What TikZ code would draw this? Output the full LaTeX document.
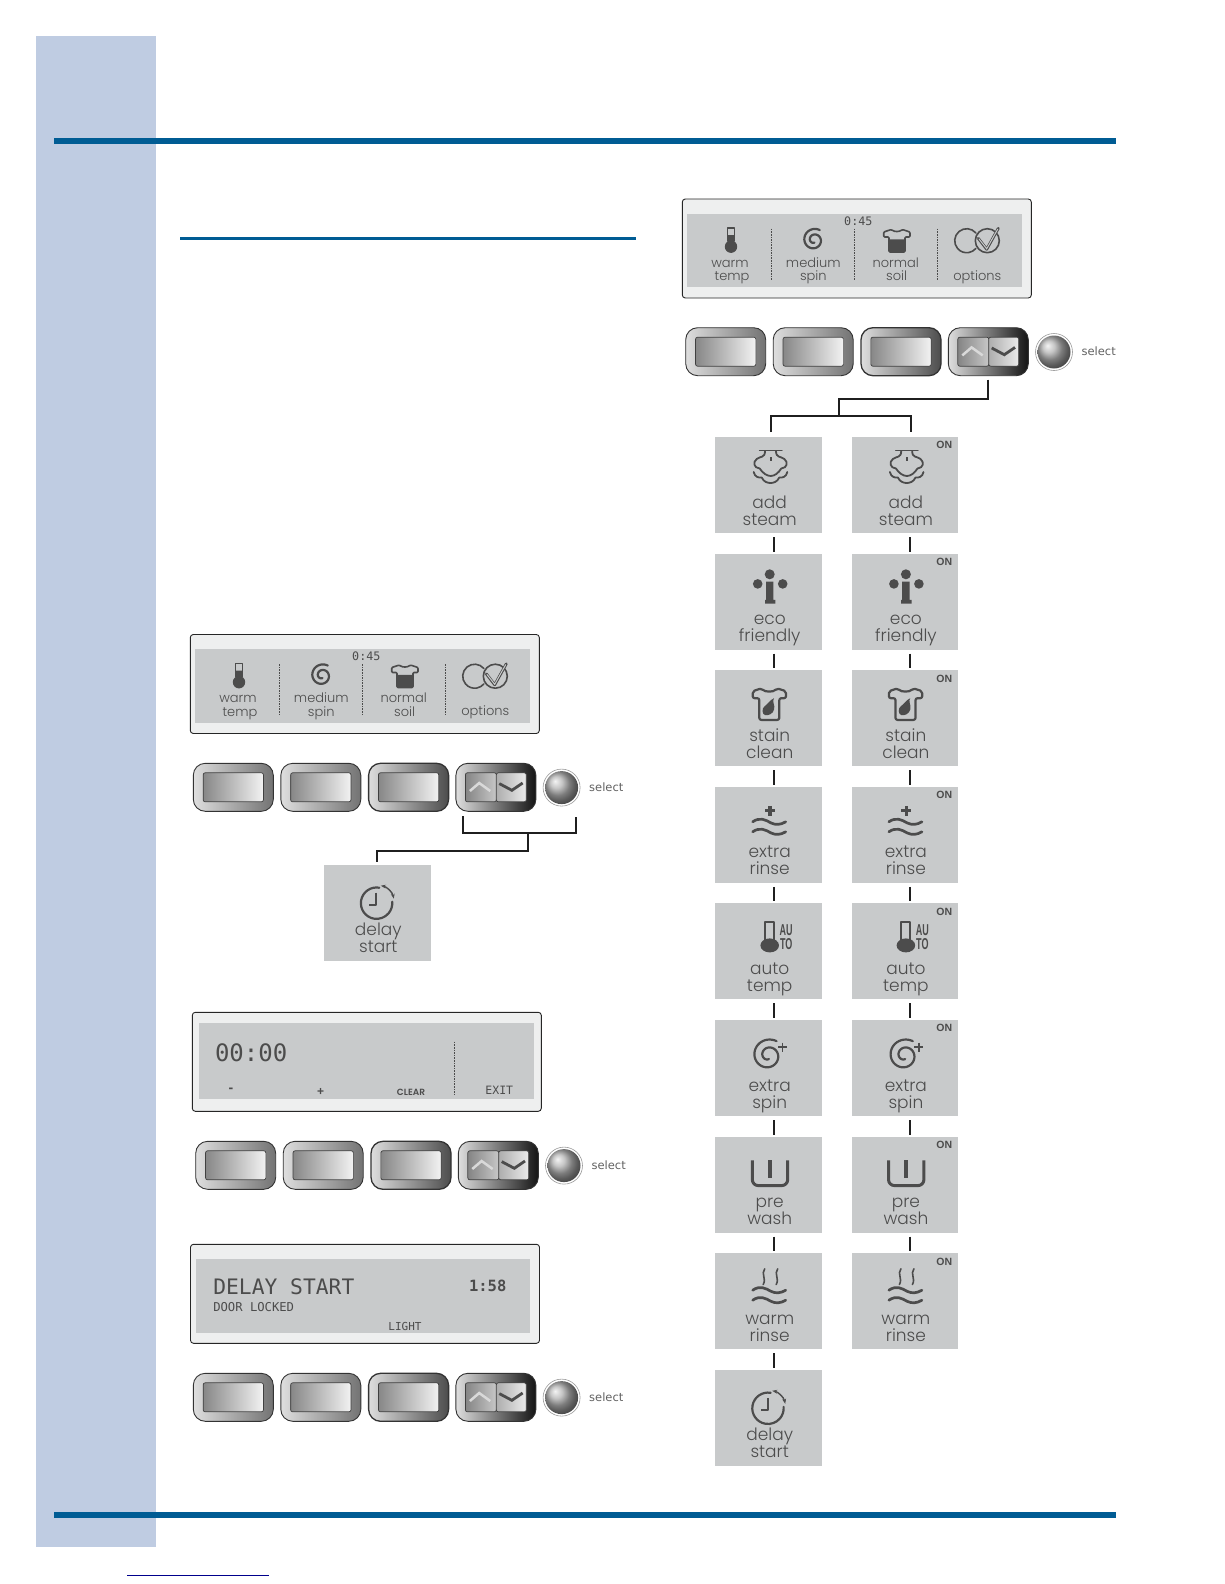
\documentclass[tikz,border=0pt]{standalone}
\usepackage{fontspec}
\usepackage{xcolor}
\usetikzlibrary{arrows.meta,positioning,calc}
\newfontfamily\lcdfont{Poppins Light}
\newfontfamily\lcdmono{DejaVu Sans Mono}
\newfontfamily\capsfont{Liberation Sans}
\newfontfamily\pagefont{DejaVu Sans}
\definecolor{sidebar}{HTML}{BFCCE2}
\definecolor{rulebar}{HTML}{005C94}
\definecolor{lcdgray}{HTML}{C8CACB}
\definecolor{framegray}{HTML}{EEEFEF}
\definecolor{lcdink}{HTML}{4C4C4C}

% the icons, origin at the middle of their tile
\tikzset{
  icon/.style={draw=lcdink, line width=2.2pt, line join=round, line cap=round},
  pics/spiralicon/.style={code={
    \draw[icon] plot[domain=60:640, samples=70, smooth]
      ({(#1)*(1-(\x-60)*0.00135)*cos(\x)},{-(#1)*(1-(\x-60)*0.00135)*sin(\x)});
  }},
  wavesicon/.pic={
    \draw[icon, line width=2.7pt] (-16,-13) .. controls (-9,-18) and (-3,-15) .. (2,-12) .. controls (7,-9.5) and (12,-10) .. (17,-13);
    \draw[icon, line width=2.7pt] (-16,-3) .. controls (-9,-8) and (-3,-5) .. (2,-2) .. controls (7,0.5) and (12,0) .. (17,-3);
  },
  steamicon/.pic={
    \draw[icon, line width=1pt] (-9.4,-35) -- (13.3,-35);
    \draw[icon, line width=1.8pt] (-3.7,-34) .. controls (-3.7,-27) and (-8,-29) .. (-12,-26) .. controls (-16,-23) and (-15,-17) .. (-9,-16.5) .. controls (-6,-12) and (-2,-9) .. (2,-9) .. controls (6,-9) and (9.6,-12) .. (12.6,-16.5) .. controls (18.6,-17) and (19.6,-23) .. (15.6,-26) .. controls (11.6,-29) and (7.3,-27) .. (7.3,-34);
    \draw[icon, line width=1.8pt] (-15,-13) .. controls (-14,-8) and (-10,-7) .. (-7,-7.5) .. controls (-5,-3) and (-1,-2) .. (1.8,-2) .. controls (4.6,-2) and (8.6,-3) .. (10.6,-7.5) .. controls (13.6,-7) and (17.6,-8) .. (18.6,-13);
    \fill[lcdink] (0.8,-28) rectangle (2.8,-24);
  },
  ecoicon/.pic={
    \fill[lcdink] (1,-27.3) circle[radius=5pt] (-11,-17.7) circle[radius=4.8pt] (14,-17.7) circle[radius=4.8pt];
    \fill[lcdink] (-2.7,-20) rectangle (4.6,-1.7) (-3.7,-1.7) rectangle (6.6,2);
  },
  stainicon/.pic={
    \draw[icon, rounded corners=2pt] (-16,-27) -- (-7,-30) .. controls (-4,-26) and (5,-26) .. (8,-30) -- (17.3,-27) -- (17.3,-20) -- (10.6,-20) -- (10.6,1.7) -- (-9.4,1.7) -- (-9.4,-20) -- (-16,-20) -- cycle;
    \fill[lcdink] (5.3,-20) .. controls (3,-17) and (6.5,-13) .. (5.5,-9) .. controls (4.5,-4) and (-1,-2.5) .. (-3.5,-3) .. controls (-7,-4) and (-7,-10) .. (-4,-12) .. controls (-1,-14) and (1,-18) .. (5.3,-20) -- cycle;
  },
  rinseicon/.pic={
    \pic {wavesicon};
    \draw[icon, line width=3.2pt, line cap=butt] (-3.7,-24) -- (6.3,-24) (1.3,-29) -- (1.3,-19);
  },
  autoicon/.pic={
    \draw[icon, line width=1.8pt] (-3.7,-8.7) -- (-3.7,-29.3) -- (5.3,-29.3) -- (5.3,-8.7);
    \fill[lcdink] (1,-6) ellipse[x radius=9.3pt, y radius=7pt];
    \node[autotag] (-au) at (17.5,-21) {\scalebox{1}[1.75]{AU}};
    \node[autotag] (-to) at (17.5,-7) {\scalebox{1}[1.75]{TO}};
  },
  extraspinicon/.pic={
    \pic at (-0.4,-12.6) {spiralicon=16.5};
    \draw[icon, line width=1.5pt, line cap=butt] (9.5,-21) -- (18.5,-21) (14,-25.5) -- (14,-16.5);
  },
  prewashicon/.pic={
    \draw[icon, line width=3pt, line cap=butt, rounded corners=6pt] (-16.4,-24.3) -- (-16.4,1) -- (19,1) -- (19,-24.3);
    \draw[icon, line width=4pt, line cap=butt] (1.3,-24.3) -- (1.3,-6.7);
  },
  warmrinseicon/.pic={
    \pic at (0,2) {wavesicon};
    \draw[icon, line width=1.6pt] (-4,-32.4) .. controls (-8,-27) and (-2,-23) .. (-5.5,-16.7);
    \draw[icon, line width=1.6pt] (9,-32.4) .. controls (5,-27) and (11,-23) .. (7.5,-16.7);
  },
  delayicon/.pic={
    \draw[icon, line width=2.2pt] (2,-25) arc[start angle=80, end angle=365, radius=15.7pt];
    \draw[icon, line width=2pt, line cap=butt] (-1,-20) -- (-1,-8) -- (-8,-8);
    \draw[icon, line width=1.4pt, {Stealth[length=5pt]}-{Stealth[length=5pt]}] (3.5,-27) .. controls (9,-26) and (15,-21) .. (16.5,-14);
  },
  % the four keys and the knob under each screen
  keyrow/.pic={
    \node[softkey] (-one) at (40,24) {};
    \node[softface] (-oneface) at (40,24) {};
    \node[softkey] (-two) at (127.5,24) {};
    \node[softface] (-twoface) at (127.5,24) {};
    \node[softkey, line width=1.3pt, right color=black!70] (-three) at (215.3,24) {};
    \node[softface] (-threeface) at (215.3,24) {};
    \node[softkey, right color=black!92] (-updown) at (302.6,24) {};
    \node[softface, minimum width=31pt, left color=black!48, right color=black!22] (-up) at (287.6,24) {};
    \node[softface, minimum width=30pt, left color=black!32, right color=black!8] (-down) at (318,24) {};
    \draw[line width=2.5pt, white!85!black] (276.6,27.7) -- (285.9,19.7) -- (297,27.7);
    \draw[lcdink, line width=2.8pt] (306,20.3) -- (318.6,27) -- (329.3,19.7);
    \node[knobring] (-ring) at (368.3,24.3) {};
    \node[knob] (-knob) at (368.3,24.3) {};
    \node[selecttag] (-select) at (413,24) {select};
  },
  % the screen with the current settings
  settingspanel/.pic={
    \node[screen] (-frame) at (174.5,49.5) {};
    \fill[lcdgray] (5,14.5) rectangle (339.7,88);
    \draw[sepline] (89,29.7) -- (89,81);
    \draw[sepline] (172,29.7) -- (172,81);
    \draw[sepline] (255,29.7) -- (255,81);
    \node[lcdmonolab, font=\lcdmono\fontsize{11.7}{12}\selectfont] (-clock) at (176,26) {0:45};
    \node[panellab] (-warm) at (47.7,68) {warm};
    \node[panellab] (-temp) at (49.7,81.5) {temp};
    \node[panellab] (-medium) at (131,68) {medium};
    \node[panellab] (-spin) at (131,81.5) {spin};
    \node[panellab] (-normal) at (213.4,68) {normal};
    \node[panellab] (-soil) at (214.4,81.5) {soil};
    \node[panellab] (-options) at (295,81) {options};
    \draw[icon, line width=1.6pt] (45,42) -- (45,29) -- (52,29) -- (52,42);
    \fill[lcdink] (48.7,47.7) circle[radius=6.2pt] (45.5,36) rectangle (51.5,46);
    \pic at (131.7,41) {spiralicon=11.5};
    \draw[icon, line width=1.6pt, rounded corners=1pt] (201.4,33) -- (209,30.5) .. controls (212,33) and (217,33) .. (220,30.5) -- (227.7,33) -- (227.7,38) -- (222.7,38) -- (222.7,53) -- (206.7,53) -- (206.7,38) -- (201.4,38) -- cycle;
    \fill[lcdink, rounded corners=1pt] (206.7,40.3) rectangle (222.7,53);
    \draw[icon, line width=1.6pt] (293.6,34) arc[start angle=40, end angle=320, radius=12pt];
    \draw[icon, line width=1.6pt] (305,41.7) circle[radius=12pt];
    \draw[icon, line width=2.8pt, miter limit=2] (296,39.3) -- (304.4,50.3) -- (316,29.3);
    \draw[lcdgray, line width=1pt] (296.6,39.8) -- (304.4,49.8) -- (315.5,30);
  },
}

\begin{document}
\begin{tikzpicture}[
  x=1pt, y=-1pt,
  every node/.style={align=center, inner sep=0pt, outer sep=0pt},
  tile/.style={fill=lcdgray, minimum width=106.5pt, minimum height=96pt,
    label={[tilelab]south:{#1}}},
  tileon/.style={tile={#1}, label={[ontag]north east:ON}},
  tilelab/.style={font=\lcdfont\fontsize{17}{17}\selectfont, text=lcdink, anchor=south,
    text depth=0pt, xshift=1pt, yshift=8pt},
  ontag/.style={font=\capsfont\bfseries\fontsize{10.5}{11}\selectfont, text=lcdink, anchor=north east,
    xshift=-6pt, yshift=-4.5pt},
  autotag/.style={font=\capsfont\bfseries\fontsize{9}{9}\selectfont, text=lcdink},
  panellab/.style={font=\lcdfont\fontsize{13}{13}\selectfont, text=lcdink, anchor=base},
  lcdmonolab/.style={text=lcdink, anchor=base},
  selecttag/.style={font=\pagefont\fontsize{11.5}{12}\selectfont, text=black!62},
  screen/.style={draw=black!85, fill=framegray, line width=.9pt, rounded corners=3pt,
    minimum width=349pt, minimum height=99pt},
  softkey/.style={draw=black!80, line width=.9pt, rounded corners=12pt, minimum width=80pt, minimum height=48pt,
    left color=black!13, right color=black!55},
  softface/.style={draw=black!75, line width=.7pt, rounded corners=2pt, minimum width=60.3pt, minimum height=29pt,
    left color=black!47, right color=black!5},
  knobring/.style={circle, draw=black!40, fill=white, line width=.6pt, minimum size=37pt},
  knob/.style={circle, ball color=black!30, minimum size=33pt},
  link/.style={draw=black!88, line width=1.7pt},
  rung/.style={link, shorten <=4pt, shorten >=2pt},
  sepline/.style={draw=lcdink, line width=.8pt, dash pattern=on 1.6pt off 1pt},
  node distance=20.6pt and 29.7pt,
]
  \useasboundingbox (0,0) rectangle (1224,1584);

  % page furniture
  \fill[sidebar] (36.4,36) rectangle (156.3,1547);
  \fill[rulebar] (54,138) rectangle (1116,144);
  \fill[rulebar] (54,1512) rectangle (1116,1518);
  \fill[rulebar] (180,236.7) rectangle (636,240);
  \fill[blue!55!black] (126.7,1574.6) rectangle (269,1575.6);

  % right column
  \pic (setright) at (682.3,199) {settingspanel};
  \pic (rowa) at (685.7,327.7) {keyrow};

  \node[tile={add\\steam}] (addsteam) at (768.7,485) {};
  \node[tile={eco\\friendly}, below=of addsteam] (ecofriendly) {};
  \node[tile={stain\\clean}, below=of ecofriendly] (stainclean) {};
  \node[tile={extra\\rinse}, below=of stainclean] (extrarinse) {};
  \node[tile={auto\\temp}, below=of extrarinse] (autotemp) {};
  \node[tile={extra\\spin}, below=of autotemp] (extraspin) {};
  \node[tile={pre\\wash}, below=of extraspin] (prewash) {};
  \node[tile={warm\\rinse}, below=of prewash] (warmrinse) {};
  \node[tile={delay\\start}, below=of warmrinse] (delaystart) {};

  \node[tileon={add\\steam}, right=of addsteam] (addsteamon) {};
  \node[tileon={eco\\friendly}, right=of ecofriendly] (ecofriendlyon) {};
  \node[tileon={stain\\clean}, right=of stainclean] (staincleanon) {};
  \node[tileon={extra\\rinse}, right=of extrarinse] (extrarinseon) {};
  \node[tileon={auto\\temp}, right=of autotemp] (autotempon) {};
  \node[tileon={extra\\spin}, right=of extraspin] (extraspinon) {};
  \node[tileon={pre\\wash}, right=of prewash] (prewashon) {};
  \node[tileon={warm\\rinse}, right=of warmrinse] (warmrinseon) {};

  \pic at (addsteam.center) {steamicon};
  \pic at (addsteamon.center) {steamicon};
  \pic at (ecofriendly.center) {ecoicon};
  \pic at (ecofriendlyon.center) {ecoicon};
  \pic at (stainclean.center) {stainicon};
  \pic at (staincleanon.center) {stainicon};
  \pic at (extrarinse.center) {rinseicon};
  \pic at (extrarinseon.center) {rinseicon};
  \pic (autoa) at (autotemp.center) {autoicon};
  \pic (autob) at (autotempon.center) {autoicon};
  \pic at (extraspin.center) {extraspinicon};
  \pic at (extraspinon.center) {extraspinicon};
  \pic at (prewash.center) {prewashicon};
  \pic at (prewashon.center) {prewashicon};
  \pic at (warmrinse.center) {warmrinseicon};
  \pic at (warmrinseon.center) {warmrinseicon};
  \pic at (delaystart.center) {delayicon};

  % the up/down key opens both columns
  \coordinate (steamjoin) at (839,399);
  \coordinate (steamtee) at (839,416);
  \coordinate (steamleft) at (771,416);
  \coordinate (steamright) at (911,416);
  \draw[link, shorten <=4pt] (rowa-updown.south) |- (steamjoin) -- (steamtee);
  \draw[link, shorten <=5pt, shorten >=5pt] (addsteam.north -| steamleft) |- (steamright) -- (addsteamon.north -| steamright);

  \coordinate (rungl) at (774,0);
  \coordinate (rungr) at (910,0);
  \draw[rung] (addsteam.south -| rungl) -- (ecofriendly.north -| rungl);
  \draw[rung] (ecofriendly.south -| rungl) -- (stainclean.north -| rungl);
  \draw[rung] (stainclean.south -| rungl) -- (extrarinse.north -| rungl);
  \draw[rung] (extrarinse.south -| rungl) -- (autotemp.north -| rungl);
  \draw[rung] (autotemp.south -| rungl) -- (extraspin.north -| rungl);
  \draw[rung] (extraspin.south -| rungl) -- (prewash.north -| rungl);
  \draw[rung] (prewash.south -| rungl) -- (warmrinse.north -| rungl);
  \draw[rung] (warmrinse.south -| rungl) -- (delaystart.north -| rungl);
  \draw[rung] (addsteamon.south -| rungr) -- (ecofriendlyon.north -| rungr);
  \draw[rung] (ecofriendlyon.south -| rungr) -- (staincleanon.north -| rungr);
  \draw[rung] (staincleanon.south -| rungr) -- (extrarinseon.north -| rungr);
  \draw[rung] (extrarinseon.south -| rungr) -- (autotempon.north -| rungr);
  \draw[rung] (autotempon.south -| rungr) -- (extraspinon.north -| rungr);
  \draw[rung] (extraspinon.south -| rungr) -- (prewashon.north -| rungr);
  \draw[rung] (prewashon.south -| rungr) -- (warmrinseon.north -| rungr);

  % left column, first screen
  \pic (setleft) at (190.3,634.5) {settingspanel};
  \pic (rowb) at (193.3,763.3) {keyrow};
  \node[tile={delay\\start}] (delaypick) at (377.3,912.7) {};
  \pic at (delaypick.center) {delayicon};

  \coordinate (pressl) at (462.7,833.3);
  \coordinate (pressr) at (576,833.3);
  \coordinate (pressjoin) at (528,833.3);
  \coordinate (presskink) at (377.3,851);
  \draw[link, shorten <=5pt, shorten >=11pt] (rowb-updown.south -| pressl) -- (pressl) -- (pressr) -- (rowb-ring.south -| pressr);
  \draw[link, shorten >=2.5pt] (pressjoin) |- (presskink) -- (delaypick.north);

  % left column, delay setting
  \node[screen] (setdelay) at (366.8,1061.8) {};
  \fill[lcdgray] (199.3,1023) rectangle (534,1099);
  \draw[sepline] (454.7,1041.7) -- (454.7,1094);
  \node[lcdmonolab, anchor=base west, font=\lcdmono\fontsize{24}{24}\selectfont] (clockzero) at (215,1061.7) {00:00};
  \node[font=\capsfont\bfseries\fontsize{14}{14}\selectfont, text=lcdink] (minuskey) at (231,1090.7) {-};
  \node[font=\capsfont\bfseries\fontsize{12}{12}\selectfont, text=lcdink] (pluskey) at (320.7,1091.7) {+};
  \node[font=\lcdfont\bfseries\fontsize{9}{9}\selectfont, text=lcdink] (clearkey) at (411,1092) {CLEAR};
  \node[lcdmonolab, font=\lcdmono\fontsize{11.5}{12}\selectfont] (exitkey) at (499.3,1094.3) {EXIT};
  \pic (rowc) at (195.7,1141.3) {keyrow};

  % left column, running
  \node[screen] (setrun) at (365,1293.8) {};
  \fill[lcdgray] (195.7,1259.3) rectangle (530,1332.7);
  \node[lcdmonolab, anchor=base west, font=\lcdmono\fontsize{21.3}{22}\selectfont] (delaytitle) at (213.3,1294) {DELAY START};
  \node[lcdmonolab, anchor=base west, font=\lcdmono\fontsize{12.2}{13}\selectfont] (doorlocked) at (213.3,1311.7) {DOOR LOCKED};
  \node[lcdmonolab, font=\lcdmono\bfseries\fontsize{15.5}{16}\selectfont] (runclock) at (487.7,1291) {1:58};
  \node[lcdmonolab, font=\lcdmono\fontsize{11}{12}\selectfont] (lightkey) at (405,1330) {LIGHT};
  \pic (rowd) at (193.3,1373.3) {keyrow};
\end{tikzpicture}
\end{document}
